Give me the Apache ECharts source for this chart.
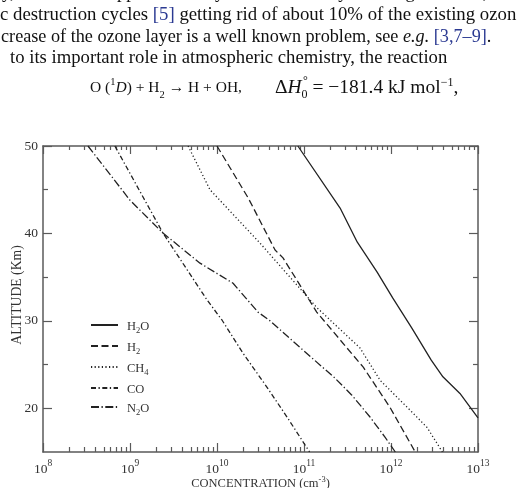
<!DOCTYPE html>
<html><head><meta charset="utf-8">
<script src="https://cdn.jsdelivr.net/npm/echarts@6/dist/echarts.min.js"></script>
<style>html,body{margin:0;padding:0;background:#fff}#c{width:519px;height:488px}</style>
</head><body><div id="c"></div>
<script>
// ---- data (concentration in cm^-3, altitude in km) ----
const seriesNames = ['H2O', 'H2', 'CH4', 'CO', 'N2O'];

const h2oAlt  = [50, 42.9, 39.0, 35.6, 32.6, 29.2, 25.5, 23.6, 21.7, 18.9];
const h2oConc = [8.5e10, 2.6e11, 4.1e11, 6.9e11, 1.05e12, 1.73e12, 2.9e12, 3.95e12, 6.2e12, 1.0e13];

const h2Alt  = [50, 44, 38.1, 37.2, 31.0, 26.9, 24.7, 20.1, 15];
const h2Conc = [1.0e10, 2.3e10, 4.65e10, 5.74e10, 1.4e11, 3.12e11, 4.8e11, 9.75e11, 1.9e12];

const ch4Alt  = [50, 45, 38.9, 37.2, 31.5, 26.9, 23.2, 19.45, 17.8, 15];
const ch4Conc = [4.65e9, 8.3e9, 3.12e10, 4.4e10, 1.41e11, 4.4e11, 7.5e11, 1.79e12, 2.6e12, 3.9e12];

const coAlt  = [50, 40.05, 32.4, 30.1, 26.3, 22.4, 19.0, 15];
const coConc = [6.7e8, 2.39e9, 7.67e9, 1.14e10, 1.99e10, 3.76e10, 6.38e10, 1.16e11];

const n2oAlt  = [50, 43.8, 40.05, 36.6, 34.3, 31.0, 30.0, 27.0, 23.45, 21.5, 19.0, 16.7, 15];
const n2oConc = [3.29e8, 1.0e9, 2.39e9, 6.38e9, 1.53e10, 2.96e10, 4.07e10, 8.9e10, 2.27e11, 3.55e11, 5.74e11, 8.53e11, 1.12e12];

// ---- axis ticks / labels ----
const xMin = 1e8, xMax = 1e13;
const xDecades = [8, 9, 10, 11, 12, 13];
const xMinorMultipliers = [2, 3, 4, 5, 6, 7, 8, 9];
const yMin = 15, yMax = 50;
const yMajor = [20, 30, 40, 50];
const yMinor = [25, 35, 45];

const xMinorLog = [];
for (let i = 0; i < xDecades.length - 1; i++) {
  xMinorMultipliers.forEach(m => xMinorLog.push(xDecades[i] + Math.log10(m)));
}

const zip = (c, a) => c.map((v, i) => [v, a[i]]);
const seriesData = {
  H2O: zip(h2oConc, h2oAlt),
  H2: zip(h2Conc, h2Alt),
  CH4: zip(ch4Conc, ch4Alt),
  CO: zip(coConc, coAlt),
  N2O: zip(n2oConc, n2oAlt)
};
const dashes = {
  H2O: 'solid',
  H2: [7, 3.5],
  CH4: [1.2, 2.4],
  CO: [5, 2.5, 1.3, 2.5],
  N2O: [8, 2.5, 1.3, 2.5]
};
const legendRich = {
  H2O: '{n|H}{s|2}{n|O}',
  H2: '{n|H}{s|2}',
  CH4: '{n|CH}{s|4}',
  CO: '{n|CO}',
  N2O: '{n|N}{s|2}{n|O}'
};

const SERIF = '"Liberation Serif", "Times New Roman", serif';
const AX = '#5a5a5a';
const LINE = '#222';

const chart = echarts.init(document.getElementById('c'), null, {renderer: 'canvas'});

const tickAxisBase = (pos, isX) => ({
  type: 'value', position: pos, min: isX ? 8 : yMin, max: isX ? 13 : yMax,
  axisLine: {show: false}, splitLine: {show: false}, axisLabel: {show: false}
});

const option = {
  animation: false,
  backgroundColor: '#fff',
  grid: {left: 43, right: 41, top: 146, bottom: 36, containLabel: false, outerBoundsMode: 'none'},
  xAxis: [
    {
      type: 'log', position: 'bottom', min: xMin, max: xMax, logBase: 10,
      axisLine: {show: true, lineStyle: {color: AX, width: 1.5}},
      axisTick: {show: true, inside: true, length: 9, lineStyle: {color: AX, width: 1.2}},
      splitLine: {show: false},
      axisLabel: {
        margin: 6,
        formatter: v => '{b|10}{s|' + Math.round(Math.log10(v)) + '}',
        rich: {
          b: {fontFamily: SERIF, fontSize: 13.5, color: '#333', lineHeight: 18, verticalAlign: 'bottom'},
          s: {fontFamily: SERIF, fontSize: 9.5, color: '#333', lineHeight: 11, verticalAlign: 'top'}
        }
      },
      name: '{a|CONCENTRATION (cm}{s|-3}{a|)}',
      nameLocation: 'middle', nameGap: 23, nameMoveOverlap: false,
      nameTextStyle: {
        rich: {
          a: {fontFamily: SERIF, fontSize: 12.5, color: '#333', lineHeight: 15, verticalAlign: 'bottom'},
          s: {fontFamily: SERIF, fontSize: 8.5, color: '#333', lineHeight: 9, verticalAlign: 'top'}
        }
      }
    },
    Object.assign(tickAxisBase('bottom', true), {
      axisTick: {show: true, inside: true, length: 5, customValues: xMinorLog, lineStyle: {color: AX, width: 1.2}}
    }),
    {
      type: 'log', position: 'top', min: xMin, max: xMax, logBase: 10,
      axisLine: {show: true, lineStyle: {color: AX, width: 1.5}},
      axisTick: {show: true, inside: true, length: 8, lineStyle: {color: AX, width: 1.2}},
      splitLine: {show: false}, axisLabel: {show: false}
    },
    Object.assign(tickAxisBase('top', true), {
      axisTick: {show: true, inside: true, length: 4, customValues: xMinorLog, lineStyle: {color: AX, width: 1.2}}
    })
  ],
  yAxis: [
    {
      type: 'value', position: 'left', min: yMin, max: yMax,
      axisLine: {show: true, lineStyle: {color: AX, width: 1.5}},
      axisTick: {show: true, inside: true, length: 9, customValues: yMajor, lineStyle: {color: AX, width: 1.2}},
      axisLabel: {customValues: yMajor, margin: 5, fontFamily: SERIF, fontSize: 13.5, color: '#333'},
      splitLine: {show: false},
      name: 'ALTITUDE (Km)', nameLocation: 'middle', nameGap: 19, nameRotate: 90, nameMoveOverlap: false,
      nameTextStyle: {fontFamily: SERIF, fontSize: 13.7, color: '#333', padding: [0, 0, 0, 8]}
    },
    Object.assign(tickAxisBase('left', false), {
      axisTick: {show: true, inside: true, length: 5, customValues: yMinor, lineStyle: {color: AX, width: 1.2}}
    }),
    Object.assign(tickAxisBase('right', false), {
      axisLine: {show: true, lineStyle: {color: AX, width: 1.5}},
      axisTick: {show: true, inside: true, length: 9, customValues: yMajor, lineStyle: {color: AX, width: 1.2}}
    }),
    Object.assign(tickAxisBase('right', false), {
      axisTick: {show: true, inside: true, length: 5, customValues: yMinor, lineStyle: {color: AX, width: 1.2}}
    })
  ],
  legend: {
    orient: 'vertical', left: 90, top: 320, padding: 0,
    itemWidth: 27, itemHeight: 12, itemGap: 6,
    itemStyle: {opacity: 0},
    data: seriesNames,
    formatter: name => legendRich[name],
    textStyle: {
      padding: [0, 0, 0, 4],
      rich: {
        n: {fontFamily: SERIF, fontSize: 12.5, color: '#333', lineHeight: 16, verticalAlign: 'bottom'},
        s: {fontFamily: SERIF, fontSize: 8.5, color: '#333', lineHeight: 9, verticalAlign: 'bottom', padding: [0, 0, -2, 0]}
      }
    }
  },
  series: seriesNames.map(n => ({
    name: n, type: 'line', xAxisIndex: 0, yAxisIndex: 0,
    data: seriesData[n], symbol: 'none', smooth: false,
    lineStyle: {color: LINE, width: 1.3, type: dashes[n]},
    itemStyle: {color: LINE}
  })),
  graphic: [
    {type: 'text', x: 2, y: -7, style: {text: 'y, extends the upper boundary of the ozone layer through the OH,', font: '18.5px ' + SERIF, fill: '#111', verticalAlign: 'middle'}},
    {type: 'text', x: 0, y: 15, style: {
      text: 'c destruction cycles {c|[5]} getting rid of about 10% of the existing ozon',
      font: '18.8px ' + SERIF, fill: '#111', verticalAlign: 'middle',
      rich: {c: {fill: '#2b3a92', font: '18.8px ' + SERIF}}
    }},
    {type: 'text', x: 1, y: 37, style: {
      text: 'crease of the ozone layer is a well known problem, see {i|e.g.} {c|[3,7–9]}.',
      font: '18.2px ' + SERIF, fill: '#111', verticalAlign: 'middle',
      rich: {c: {fill: '#2b3a92', font: '18.2px ' + SERIF}, i: {font: 'italic 18.2px ' + SERIF, fill: '#111'}}
    }},
    {type: 'text', x: 10, y: 58, style: {
      text: 'to its important role in atmospheric chemistry, the reaction',
      font: '18.7px ' + SERIF, fill: '#111', verticalAlign: 'middle'
    }},
    {type: 'text', x: 90, y: 88, style: {
      text: '{m|O (}{p|1}{it|D}{m|) + H}{b|2}{m| → H + OH,}',
      verticalAlign: 'middle',
      rich: {
        m: {font: '15.5px ' + SERIF, fill: '#111', lineHeight: 22, verticalAlign: 'middle'},
        it: {font: 'italic 15.5px ' + SERIF, fill: '#111', lineHeight: 22, verticalAlign: 'middle'},
        p: {font: '10.5px ' + SERIF, fill: '#111', lineHeight: 12, verticalAlign: 'top'},
        b: {font: '10.5px ' + SERIF, fill: '#111', lineHeight: 12, verticalAlign: 'bottom', padding: [0, 0, -2, 0]}
      }
    }},
    {type: 'text', x: 275, y: 88, style: {
      text: '{m|Δ}{it|H}{b|0}{m| = −181.4 kJ mol}{p|−1}{m|,}',
      verticalAlign: 'middle',
      rich: {
        m: {font: '19.5px ' + SERIF, fill: '#111', lineHeight: 22, verticalAlign: 'middle'},
        it: {font: 'italic 19.5px ' + SERIF, fill: '#111', lineHeight: 22, verticalAlign: 'middle'},
        p: {font: '12px ' + SERIF, fill: '#111', lineHeight: 12, verticalAlign: 'top'},
        b: {font: '12px ' + SERIF, fill: '#111', lineHeight: 12, verticalAlign: 'bottom', padding: [0, 0, -2, 0]}
      }
    }},
    {type: 'text', x: 303, y: 81, style: {text: '°', font: '12px ' + SERIF, fill: '#111', verticalAlign: 'middle'}}
  ]
};
chart.setOption(option);
</script>
</body></html>
